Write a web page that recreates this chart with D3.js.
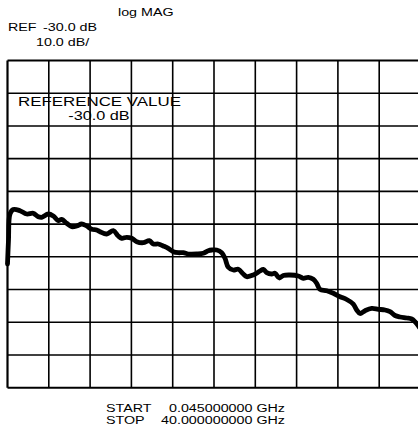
<!DOCTYPE html>
<html>
<head>
<meta charset="utf-8">
<script src="https://cdn.jsdelivr.net/npm/d3@7"></script>
<style>
  html, body { margin: 0; padding: 0; background: #fff; }
  svg { display: block; }
  text { font-family: "Liberation Sans", Arial, Helvetica, sans-serif; fill: #000; }
</style>
</head>
<body>
<svg id="chart" width="418" height="434"></svg>
<script>
// Sweep settings (GHz) and display scale (dB)
const startGHz = 0.045;
const stopGHz = 40.0;
const refValue = -30.0;   // reference level, center graticule line
const dbPerDiv = 10.0;
const divisions = 10;

// Header / footer annotations
const headerFormat = "log MAG";
const refLabel = "REF";
const refText = "-30.0 dB";
const scaleText = "10.0 dB/";
const refBoxTitle = "REFERENCE VALUE";
const refBoxValue = "-30.0 dB";
const startLabel = "START";
const startText = "0.045000000 GHz";
const stopLabel = "STOP";
const stopText = "40.000000000 GHz";

// Measured trace: frequency (GHz) and magnitude (dB)
const traceFreq = [
  0.045, 0.142, 0.287, 0.606, 1.254, 1.902, 2.541, 3.025, 3.354, 3.992,
  4.476, 4.96, 5.288, 5.772, 6.256, 6.739, 7.223, 7.707, 8.191, 8.675,
  8.994, 9.642, 10.28, 10.764, 11.093, 11.577, 12.06, 12.544, 13.183, 13.763,
  14.15, 14.634, 15.118, 15.601, 16.085, 16.569, 17.053, 17.536, 18.349, 18.988,
  19.471, 19.829, 20.284, 20.768, 21.087, 21.406, 21.89, 22.374, 22.857, 23.186,
  23.825, 24.473, 24.792, 25.121, 25.605, 25.924, 26.34, 26.727, 27.375, 28.178,
  28.662, 29.145, 29.629, 29.958, 30.277, 30.925, 31.564, 32.212, 32.86, 33.499,
  33.828, 34.147, 34.631, 35.279, 35.918, 36.566, 37.05, 37.533, 38.017, 38.665,
  39.149, 39.468, 39.807, 40.0
];
const traceDb = [
  -42.19, -34.86, -26.91, -25.54, -25.90, -26.91, -26.70, -27.74, -27.92, -26.91,
  -27.52, -28.96, -28.53, -29.75, -30.79, -30.58, -29.97, -30.58, -31.59, -31.80,
  -32.32, -33.03, -32.02, -33.64, -34.34, -34.03, -34.34, -35.38, -35.68, -35.07,
  -36.08, -36.08, -36.69, -37.40, -38.43, -38.74, -38.74, -39.14, -39.14, -38.92,
  -38.13, -37.92, -37.92, -38.74, -40.45, -43.20, -44.03, -43.81, -45.25, -46.07,
  -45.56, -44.33, -43.81, -44.85, -45.25, -45.04, -46.47, -45.71, -45.56, -45.86,
  -46.56, -46.26, -46.87, -48.09, -49.93, -50.35, -51.15, -52.19, -53.04, -54.42,
  -56.25, -57.32, -56.47, -55.79, -56.04, -56.25, -56.77, -57.93, -58.39, -58.70,
  -59.00, -59.83, -61.14, -62.06
];

const svg = d3.select("#chart");

const plot = { left: 7.5, right: 420.5, top: 60.5, bottom: 387.7 };
const topDb = refValue + dbPerDiv * divisions / 2;
const bottomDb = refValue - dbPerDiv * divisions / 2;

const x = d3.scaleLinear().domain([startGHz, stopGHz]).range([plot.left, plot.right]);
const y = d3.scaleLinear().domain([topDb, bottomDb]).range([plot.top, plot.bottom]);

// Graticule: 10 x 10 divisions
const xTicks = d3.range(divisions + 1).map(i => startGHz + i * (stopGHz - startGHz) / divisions);
const yTicks = d3.range(divisions + 1).map(i => topDb - i * dbPerDiv);

const grid = svg.append("g").attr("stroke", "#000").attr("fill", "none");
grid.selectAll("line.v").data(xTicks).join("line")
  .attr("class", "v")
  .attr("x1", d => x(d)).attr("x2", d => x(d))
  .attr("y1", y(topDb)).attr("y2", y(bottomDb))
  .attr("stroke-width", (d, i) => i === 0 ? 2.2 : 1.6);
grid.selectAll("line.h").data(yTicks).join("line")
  .attr("class", "h")
  .attr("x1", x(startGHz)).attr("x2", x(stopGHz))
  .attr("y1", d => y(d)).attr("y2", d => y(d))
  .attr("stroke-width", (d, i) => (i === 0 || i === divisions) ? 2 : 1.6);

// Wide instrument-style lettering
const stretch = 1.3;
function label(txt, px, py, size, anchor) {
  svg.append("text")
    .attr("transform", `translate(${px},${py}) scale(${stretch},1)`)
    .attr("font-size", size)
    .attr("text-anchor", anchor || "start")
    .text(txt);
}

label(headerFormat, 118, 16, 11);
label(refLabel, 8, 31, 11);
label(refText, 43, 31, 11);
label(scaleText, 36, 46, 11);

label(refBoxTitle, 18, 105.5, 13);
label(refBoxValue, 99, 119.5, 12.5, "middle");

label(startLabel, 106, 411.5, 11);
label(startText, 285, 411.5, 11, "end");
label(stopLabel, 106, 424, 11);
label(stopText, 285, 424, 11, "end");

// Trace
const points = traceFreq.map((f, i) => [f, traceDb[i]]);
const line = d3.line()
  .x(d => x(d[0]))
  .y(d => y(d[1]))
  .curve(d3.curveCatmullRom.alpha(0.5));

svg.append("path")
  .datum(points)
  .attr("d", line)
  .attr("fill", "none")
  .attr("stroke", "#000")
  .attr("stroke-width", 4.8)
  .attr("stroke-linejoin", "round")
  .attr("stroke-linecap", "round");
</script>
</body>
</html>
